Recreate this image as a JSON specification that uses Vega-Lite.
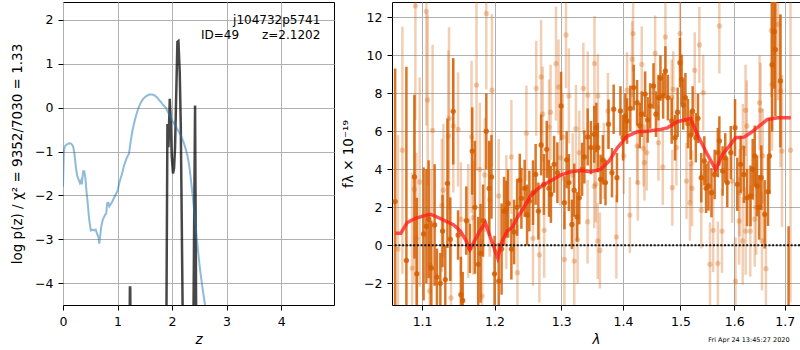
{
  "$schema": "https://vega.github.io/schema/vega-lite/v6.json",
  "padding": {"left": 10, "top": 1, "right": 0, "bottom": 0},
  "spacing": 58,
  "bounds": "flush",
  "config": {
    "font": "DejaVu Sans",
    "view": {"stroke": "black", "strokeWidth": 1},
    "axis": {"grid": true, "gridColor": "#b0b0b0", "gridWidth": 1, "gridOpacity": 1, "domain": false, "tickColor": "black", "tickSize": 5, "tickWidth": 1, "labelFontSize": 12.5, "labelColor": "black", "labelPadding": 5, "labelFlush": false, "labelOverlap": false, "titleFontSize": 13.5, "titleFontWeight": "normal", "titleColor": "black", "titlePadding": 5}
  },
  "datasets": {
    "pz": [
      {"z":0.0,"v":-1.8},{"z":0.015,"v":-1.0},{"z":0.035,"v":-0.88},{"z":0.07,"v":-0.84},{"z":0.11,"v":-0.81},{"z":0.15,"v":-0.82},{"z":0.185,"v":-0.88},{"z":0.21,"v":-1.05},{"z":0.235,"v":-1.35},{"z":0.26,"v":-1.55},{"z":0.29,"v":-1.65},{"z":0.31,"v":-1.72},{"z":0.335,"v":-1.65},{"z":0.345,"v":-1.75},{"z":0.37,"v":-1.45},{"z":0.39,"v":-1.45},{"z":0.41,"v":-1.6},{"z":0.43,"v":-1.9},{"z":0.455,"v":-2.2},{"z":0.48,"v":-2.55},{"z":0.51,"v":-2.8},{"z":0.54,"v":-2.78},{"z":0.57,"v":-2.8},{"z":0.6,"v":-2.78},{"z":0.625,"v":-2.88},{"z":0.65,"v":-2.95},{"z":0.665,"v":-3.1},{"z":0.685,"v":-2.9},{"z":0.7,"v":-2.72},{"z":0.73,"v":-2.55},{"z":0.77,"v":-2.45},{"z":0.795,"v":-2.4},{"z":0.81,"v":-2.18},{"z":0.83,"v":-2.17},{"z":0.85,"v":-2.25},{"z":0.875,"v":-2.2},{"z":0.9,"v":-2.15},{"z":0.95,"v":-2.02},{"z":1.0,"v":-1.9},{"z":1.04,"v":-1.68},{"z":1.08,"v":-1.52},{"z":1.12,"v":-1.32},{"z":1.17,"v":-1.14},{"z":1.21,"v":-1.05},{"z":1.24,"v":-0.78},{"z":1.27,"v":-0.55},{"z":1.3,"v":-0.37},{"z":1.34,"v":-0.18},{"z":1.38,"v":-0.02},{"z":1.42,"v":0.1},{"z":1.47,"v":0.2},{"z":1.52,"v":0.26},{"z":1.58,"v":0.3},{"z":1.64,"v":0.3},{"z":1.68,"v":0.28},{"z":1.72,"v":0.24},{"z":1.76,"v":0.18},{"z":1.8,"v":0.12},{"z":1.84,"v":0.06},{"z":1.884,"v":0.0},{"z":1.94,"v":-0.14},{"z":2.0,"v":-0.29},{"z":2.08,"v":-0.45},{"z":2.16,"v":-0.63},{"z":2.21,"v":-0.78},{"z":2.25,"v":-0.94},{"z":2.28,"v":-1.08},{"z":2.31,"v":-1.28},{"z":2.34,"v":-1.58},{"z":2.374,"v":-1.96},{"z":2.405,"v":-2.35},{"z":2.435,"v":-2.73},{"z":2.465,"v":-3.11},{"z":2.495,"v":-3.49},{"z":2.527,"v":-3.82},{"z":2.557,"v":-4.1},{"z":2.606,"v":-4.51},{"z":2.63,"v":-4.75}
    ],
    "chi": [
      {"z":1.2,"v":-9},{"z":1.227,"v":-4.1},{"z":1.233,"v":-4.1},{"z":1.26,"v":-9},{"z":1.87,"v":-9},{"z":1.875,"v":-10},{"z":1.915,"v":-0.37},{"z":1.934,"v":-0.9},{"z":1.958,"v":0.2},{"z":1.976,"v":-0.3},{"z":1.994,"v":-1.1},{"z":2.018,"v":-1.5},{"z":2.037,"v":-1.38},{"z":2.055,"v":-0.9},{"z":2.08,"v":0.5},{"z":2.098,"v":1.5},{"z":2.117,"v":1.52},{"z":2.141,"v":0.8},{"z":2.16,"v":-0.4},{"z":2.178,"v":-2.6},{"z":2.205,"v":-6},{"z":2.3,"v":-15},{"z":2.385,"v":-6},{"z":2.422,"v":0.05},{"z":2.447,"v":-6},{"z":2.6,"v":-15},{"z":4.9,"v":-15}
    ],
    "dk": [
      {"l":1.065,"f":2.3,"e":7.0},{"l":1.0795,"f":-0.8,"e":10.2},{"l":1.09,"f":3.6,"e":4.3},{"l":1.0931,"f":-1.5,"e":4.0},{"l":1.102,"f":0.6,"e":3.5},{"l":1.1057,"f":1.0,"e":3.0},{"l":1.1087,"f":1.37,"e":3.1},{"l":1.1123,"f":-1.2,"e":2.5},{"l":1.1167,"f":1.07,"e":3.2},{"l":1.1198,"f":-1.67,"e":1.5},{"l":1.1244,"f":-2.0,"e":1.6},{"l":1.1274,"f":0.75,"e":1.9},{"l":1.1311,"f":-1.8,"e":1.8},{"l":1.134,"f":3.26,"e":3.4},{"l":1.1379,"f":0.32,"e":2.2},{"l":1.1419,"f":7.05,"e":2.8},{"l":1.1486,"f":0.54,"e":1.3},{"l":1.1525,"f":-2.6,"e":2.0},{"l":1.155,"f":-2.9,"e":1.5},{"l":1.16,"f":1.3,"e":1.8},{"l":1.165,"f":-0.16,"e":1.3},{"l":1.1683,"f":4.96,"e":2.3},{"l":1.172,"f":2.0,"e":3.5},{"l":1.1767,"f":-1.0,"e":2.5},{"l":1.18,"f":-0.42,"e":2.6},{"l":1.1836,"f":1.3,"e":1.9},{"l":1.1882,"f":6.0,"e":2.0},{"l":1.1923,"f":3.0,"e":2.5},{"l":1.1956,"f":3.6,"e":2.2},{"l":1.2,"f":-1.5,"e":2.0},{"l":1.206,"f":-1.88,"e":2.0},{"l":1.2102,"f":-0.2,"e":2.4},{"l":1.2138,"f":1.8,"e":1.8},{"l":1.2171,"f":1.9,"e":1.5},{"l":1.2197,"f":2.2,"e":1.8},{"l":1.2245,"f":-0.2,"e":1.6},{"l":1.2285,"f":0.7,"e":1.7},{"l":1.233,"f":2.0,"e":1.5},{"l":1.2369,"f":3.42,"e":1.4},{"l":1.2393,"f":2.47,"e":1.6},{"l":1.2442,"f":3.0,"e":1.5},{"l":1.2478,"f":1.6,"e":1.6},
      {"l":1.2512,"f":2.33,"e":1.6},{"l":1.2567,"f":2.77,"e":1.7},{"l":1.2607,"f":3.73,"e":1.6},{"l":1.2648,"f":1.8,"e":1.5},{"l":1.269,"f":5.28,"e":1.6},{"l":1.2732,"f":3.2,"e":1.6},{"l":1.2776,"f":5.05,"e":1.5},{"l":1.281,"f":3.0,"e":1.5},{"l":1.284,"f":2.68,"e":1.5},{"l":1.289,"f":4.26,"e":1.5},{"l":1.294,"f":3.82,"e":1.6},{"l":1.2998,"f":7.33,"e":1.8},{"l":1.305,"f":2.24,"e":1.4},{"l":1.3085,"f":4.5,"e":1.5},{"l":1.312,"f":3.3,"e":1.5},{"l":1.3168,"f":1.1,"e":1.3},{"l":1.3205,"f":2.9,"e":1.4},{"l":1.325,"f":1.5,"e":1.3},{"l":1.3285,"f":2.5,"e":1.4},{"l":1.333,"f":4.0,"e":1.4},{"l":1.3366,"f":4.65,"e":1.4},{"l":1.342,"f":5.7,"e":1.5},{"l":1.3472,"f":5.14,"e":1.4},{"l":1.3526,"f":5.84,"e":1.5},
      {"l":1.356,"f":6.2,"e":1.3},{"l":1.3585,"f":5.14,"e":1.3},{"l":1.3629,"f":3.47,"e":1.3},{"l":1.3667,"f":4.5,"e":1.3},{"l":1.371,"f":3.3,"e":1.2},{"l":1.376,"f":6.37,"e":1.3},{"l":1.3817,"f":3.82,"e":1.3},{"l":1.3845,"f":7.16,"e":1.3},{"l":1.39,"f":3.56,"e":1.3},{"l":1.3958,"f":7.07,"e":1.3},{"l":1.4003,"f":5.66,"e":1.2},{"l":1.404,"f":6.8,"e":1.2},{"l":1.4069,"f":6.54,"e":1.2},{"l":1.4124,"f":7.2,"e":1.2},{"l":1.4182,"f":8.3,"e":1.2},{"l":1.424,"f":7.5,"e":1.2},{"l":1.4286,"f":6.3,"e":1.2},{"l":1.432,"f":6.9,"e":1.2},{"l":1.4378,"f":7.95,"e":1.2},{"l":1.4422,"f":6.6,"e":1.2},{"l":1.4466,"f":7.33,"e":1.2},{"l":1.4523,"f":8.38,"e":1.2},{"l":1.4566,"f":6.9,"e":1.2},{"l":1.461,"f":7.77,"e":1.2},{"l":1.4645,"f":8.8,"e":1.2},
      {"l":1.4692,"f":7.86,"e":1.2},{"l":1.4732,"f":9.17,"e":1.3},{"l":1.4776,"f":7.77,"e":1.2},{"l":1.4844,"f":6.54,"e":1.2},{"l":1.4904,"f":5.66,"e":1.2},{"l":1.495,"f":7.0,"e":1.3},{"l":1.4993,"f":9.61,"e":1.3},{"l":1.5022,"f":8.73,"e":1.3},{"l":1.505,"f":7.38,"e":1.3},{"l":1.509,"f":7.77,"e":1.3},{"l":1.5136,"f":6.4,"e":1.3},{"l":1.5186,"f":5.8,"e":1.3},{"l":1.5222,"f":7.07,"e":1.3},{"l":1.528,"f":5.66,"e":1.3},{"l":1.532,"f":6.68,"e":1.3},{"l":1.538,"f":3.56,"e":1.3},{"l":1.5437,"f":4.44,"e":1.3},{"l":1.547,"f":3.0,"e":1.3},{"l":1.5514,"f":3.12,"e":1.3},{"l":1.557,"f":2.77,"e":1.3},{"l":1.563,"f":3.73,"e":1.3},{"l":1.569,"f":4.88,"e":1.3},{"l":1.5718,"f":5.49,"e":1.3},{"l":1.578,"f":3.91,"e":1.3},{"l":1.583,"f":4.6,"e":1.3},{"l":1.5868,"f":3.3,"e":1.3},
      {"l":1.5935,"f":4.88,"e":1.4},{"l":1.6017,"f":6.19,"e":1.5},{"l":1.606,"f":3.21,"e":1.4},{"l":1.6125,"f":4.26,"e":1.5},{"l":1.6188,"f":3.73,"e":1.5},{"l":1.6251,"f":2.5,"e":1.5},{"l":1.6317,"f":2.6,"e":1.6},{"l":1.636,"f":4.0,"e":1.6},{"l":1.64,"f":4.7,"e":1.6},{"l":1.6446,"f":3.12,"e":1.6},{"l":1.649,"f":2.0,"e":1.7},{"l":1.653,"f":3.56,"e":1.7},{"l":1.6597,"f":1.63,"e":1.8},{"l":1.6663,"f":2.82,"e":1.8},{"l":1.6692,"f":4.7,"e":2.0},{"l":1.6745,"f":9.5,"e":3.5},{"l":1.679,"f":11.24,"e":3.0},{"l":1.6812,"f":10.3,"e":3.5},{"l":1.6913,"f":8.65,"e":3.5},{"l":1.708,"f":-3.5,"e":4.5}
    ],
    "lt": [
      {"l":1.0686,"f":-0.2,"e":6.0},{"l":1.0743,"f":5.0,"e":6.5},{"l":1.0869,"f":-1.2,"e":5.0},{"l":1.0899,"f":2.95,"e":5.0},{"l":1.0912,"f":12.6,"e":6.0},{"l":1.0925,"f":0.37,"e":4.5},{"l":1.0968,"f":3.33,"e":5.5},{"l":1.1057,"f":12.3,"e":6.0},{"l":1.1074,"f":7.65,"e":4.5},{"l":1.11,"f":-2.4,"e":4.0},{"l":1.111,"f":-1.05,"e":5.0},{"l":1.114,"f":6.05,"e":4.5},{"l":1.1264,"f":2.1,"e":3.5},{"l":1.1286,"f":2.9,"e":3.5},{"l":1.1353,"f":5.75,"e":4.5},{"l":1.1362,"f":6.68,"e":4.8},{"l":1.1389,"f":-2.76,"e":3.0},{"l":1.142,"f":6.28,"e":3.5},{"l":1.1486,"f":6.1,"e":3.0},
      {"l":1.1525,"f":1.37,"e":3.0},{"l":1.1627,"f":1.28,"e":3.0},{"l":1.1673,"f":5.7,"e":4.0},{"l":1.1697,"f":1.45,"e":3.0},{"l":1.1743,"f":8.43,"e":4.5},{"l":1.179,"f":4.0,"e":3.5},{"l":1.1822,"f":-2.67,"e":3.0},{"l":1.186,"f":3.7,"e":3.0},{"l":1.1882,"f":12.2,"e":4.0},{"l":1.193,"f":2.4,"e":3.0},{"l":1.1963,"f":8.16,"e":4.0},{"l":1.206,"f":2.6,"e":3.0},{"l":1.2171,"f":1.75,"e":3.0},{"l":1.2245,"f":4.65,"e":3.0},{"l":1.2335,"f":-1.44,"e":2.5},{"l":1.2468,"f":5.9,"e":2.5},
      {"l":1.2567,"f":0.37,"e":2.5},{"l":1.2616,"f":8.26,"e":2.5},{"l":1.2664,"f":-0.51,"e":2.5},{"l":1.269,"f":8.86,"e":3.0},{"l":1.2714,"f":6.9,"e":2.5},{"l":1.2737,"f":0.79,"e":2.5},{"l":1.281,"f":6.22,"e":2.5},{"l":1.2835,"f":7.0,"e":2.5},{"l":1.2919,"f":9.56,"e":3.0},{"l":1.2958,"f":8.33,"e":2.5},{"l":1.2985,"f":4.6,"e":2.5},{"l":1.3024,"f":5.7,"e":2.3},{"l":1.305,"f":-0.74,"e":2.5},{"l":1.3075,"f":11.07,"e":2.8},{"l":1.312,"f":7.86,"e":2.5},{"l":1.318,"f":3.7,"e":2.2},{"l":1.3205,"f":-0.83,"e":2.3},{"l":1.3232,"f":6.14,"e":2.3},{"l":1.3258,"f":0.3,"e":2.3},{"l":1.3285,"f":4.88,"e":2.2},{"l":1.335,"f":8.26,"e":2.4},{"l":1.342,"f":7.9,"e":2.3},{"l":1.3418,"f":1.24,"e":2.2},{"l":1.3526,"f":3.1,"e":2.2},{"l":1.353,"f":9.56,"e":2.5},
      {"l":1.355,"f":3.21,"e":2.0},{"l":1.3585,"f":7.86,"e":2.2},{"l":1.3583,"f":0.23,"e":2.0},{"l":1.3618,"f":-0.27,"e":2.0},{"l":1.3683,"f":4.44,"e":2.0},{"l":1.3749,"f":7.07,"e":2.0},{"l":1.389,"f":0.44,"e":2.2},{"l":1.4014,"f":4.7,"e":2.0},{"l":1.4069,"f":8.16,"e":2.0},{"l":1.4116,"f":1.59,"e":2.0},{"l":1.4155,"f":9.79,"e":2.0},{"l":1.4172,"f":11.14,"e":2.0},{"l":1.424,"f":5.23,"e":2.0},{"l":1.4252,"f":3.3,"e":2.0},{"l":1.432,"f":9.52,"e":2.0},{"l":1.435,"f":5.1,"e":2.0},{"l":1.4366,"f":4.35,"e":2.0},{"l":1.4406,"f":4.88,"e":2.0},{"l":1.4552,"f":10.09,"e":2.0},{"l":1.461,"f":5.4,"e":2.0},
      {"l":1.4686,"f":4.12,"e":2.0},{"l":1.4732,"f":10.96,"e":2.0},{"l":1.4844,"f":7.77,"e":2.0},{"l":1.4855,"f":3.03,"e":2.0},{"l":1.4872,"f":8.2,"e":2.0},{"l":1.4928,"f":5.14,"e":2.0},{"l":1.4993,"f":11.14,"e":2.0},{"l":1.511,"f":3.38,"e":2.0},{"l":1.5172,"f":2.24,"e":2.0},{"l":1.519,"f":4.3,"e":2.0},{"l":1.5212,"f":3.0,"e":2.0},{"l":1.526,"f":9.21,"e":2.0},{"l":1.5345,"f":10.54,"e":2.0},{"l":1.538,"f":1.84,"e":2.0},{"l":1.5416,"f":8.03,"e":2.0},{"l":1.5542,"f":-1.0,"e":2.2},{"l":1.5602,"f":0.79,"e":2.2},{"l":1.569,"f":-0.95,"e":2.2},{"l":1.5718,"f":11.54,"e":2.5},{"l":1.5768,"f":0.75,"e":2.2},
      {"l":1.5962,"f":3.38,"e":2.2},{"l":1.6026,"f":-1.88,"e":2.3},{"l":1.6103,"f":2.77,"e":2.3},{"l":1.6095,"f":1.28,"e":2.3},{"l":1.6168,"f":5.14,"e":2.3},{"l":1.6165,"f":0.23,"e":2.3},{"l":1.622,"f":7.1,"e":2.4},{"l":1.6222,"f":0.75,"e":2.3},{"l":1.6245,"f":6.28,"e":2.4},{"l":1.6313,"f":0.75,"e":2.4},{"l":1.64,"f":1.37,"e":2.5},{"l":1.643,"f":2.0,"e":2.5},{"l":1.6495,"f":7.5,"e":2.5},{"l":1.6515,"f":7.1,"e":2.5},{"l":1.6543,"f":0.23,"e":2.6},{"l":1.6558,"f":4.7,"e":2.5},{"l":1.6622,"f":-1.23,"e":2.8},{"l":1.673,"f":11.3,"e":3.5},{"l":1.6745,"f":8.47,"e":3.5},{"l":1.6866,"f":11.63,"e":4.0},{"l":1.6916,"f":8.12,"e":4.0},{"l":1.6946,"f":4.96,"e":4.0},{"l":1.712,"f":5.0,"e":8.0}
    ],
    "model": [
      {"l":1.0653,"f":0.63},{"l":1.0723,"f":0.63},{"l":1.0803,"f":1.19},{"l":1.0912,"f":1.42},{"l":1.1021,"f":1.55},{"l":1.111,"f":1.63},{"l":1.12,"f":1.49},{"l":1.1312,"f":1.28},{"l":1.1426,"f":1.07},{"l":1.1518,"f":0.75},{"l":1.1587,"f":0.31},{"l":1.1648,"f":-0.22},{"l":1.1703,"f":0.14},{"l":1.1788,"f":0.75},{"l":1.1869,"f":1.19},{"l":1.1941,"f":0.4},{"l":1.2046,"f":-0.66},{"l":1.211,"f":0.22},{"l":1.2183,"f":0.75},{"l":1.2257,"f":0.93},{"l":1.2331,"f":1.45},{"l":1.2429,"f":1.98},{"l":1.2529,"f":2.59},{"l":1.263,"f":2.94},{"l":1.2731,"f":3.2},{"l":1.2834,"f":3.38},{"l":1.2989,"f":3.69},{"l":1.3146,"f":3.87},{"l":1.3305,"f":3.94},{"l":1.3466,"f":3.87},{"l":1.3629,"f":3.99},{"l":1.3767,"f":4.43},{"l":1.3906,"f":5.13},{"l":1.4073,"f":5.74},{"l":1.4243,"f":5.97},{"l":1.4415,"f":6.0},{"l":1.4648,"f":6.1},{"l":1.4767,"f":6.18},{"l":1.4946,"f":6.5},{"l":1.5186,"f":6.67},{"l":1.5308,"f":5.83},{"l":1.5493,"f":4.78},{"l":1.5649,"f":3.99},{"l":1.5775,"f":4.78},{"l":1.5933,"f":5.31},{"l":1.6029,"f":5.66},{"l":1.619,"f":5.69},{"l":1.6321,"f":5.92},{"l":1.6487,"f":6.27},{"l":1.6652,"f":6.62},{"l":1.6855,"f":6.71},{"l":1.7126,"f":6.71}
    ]
  },
  "hconcat": [
    {
      "width": 271,
      "height": 303,
      "layer": [
        {
          "data": {"name": "chi"},
          "mark": {"type": "line", "color": "#000000", "opacity": 0.72, "strokeWidth": 2.5, "clip": true},
          "encoding": {
            "x": {"field": "z", "type": "quantitative", "title": "z", "scale": {"domain": [0, 4.97], "nice": false, "zero": false}, "axis": {"title": "z", "titleFontStyle": "italic", "values": [0, 1, 2, 3, 4]}},
            "y": {"field": "v", "type": "quantitative", "title": "log p(z) / χ² = 9352/7030 = 1.33", "scale": {"domain": [-4.5, 2.41], "nice": false, "zero": false}, "axis": {"title": "log p(z) / χ² = 9352/7030 = 1.33", "values": [-4, -3, -2, -1, 0, 1, 2], "titlePadding": 10}}
          }
        },
        {
          "data": {"name": "pz"},
          "mark": {"type": "line", "color": "#1f77b4", "opacity": 0.5, "strokeWidth": 2, "clip": true},
          "encoding": {
            "x": {"field": "z", "type": "quantitative", "title": "z"},
            "y": {"field": "v", "type": "quantitative", "title": "log p(z) / χ² = 9352/7030 = 1.33"}
          }
        },
        {
          "data": {"values": [{}]},
          "mark": {"type": "text", "align": "right", "baseline": "middle", "fontSize": 12, "color": "black"},
          "encoding": {"x": {"datum": 4.72}, "y": {"datum": 1.99}, "text": {"value": "j104732p5741"}}
        },
        {
          "data": {"values": [{}]},
          "mark": {"type": "text", "align": "right", "baseline": "middle", "fontSize": 12, "color": "black"},
          "encoding": {"x": {"datum": 4.72}, "y": {"datum": 1.66}, "text": {"value": "ID=49\u00a0\u00a0\u00a0\u00a0\u00a0\u00a0z=2.1202"}}
        }
      ]
    },
    {
      "width": 408,
      "height": 303,
      "layer": [
        {
          "data": {"name": "lt"},
          "mark": {"type": "errorbar", "ticks": false, "color": "#d55e00", "opacity": 0.3, "thickness": 2.5, "clip": true},
          "encoding": {
            "x": {"field": "l", "type": "quantitative", "title": "λ", "scale": {"type": "log", "domain": [1.061, 1.7316], "nice": false, "zero": false}, "axis": {"title": "λ", "titleFontStyle": "italic", "values": [1.1, 1.2, 1.3, 1.4, 1.5, 1.6, 1.7], "format": ".1f"}},
            "y": {"field": "f", "type": "quantitative", "title": "fλ × 10⁻¹⁹", "scale": {"domain": [-3.14, 12.8], "nice": false, "zero": false}, "axis": {"title": "fλ × 10⁻¹⁹", "values": [-2, 0, 2, 4, 6, 8, 10, 12], "titlePadding": 8}},
            "yError": {"field": "e"}
          }
        },
        {
          "data": {"name": "lt"},
          "mark": {"type": "circle", "color": "#d55e00", "opacity": 0.3, "size": 28, "clip": true},
          "encoding": {
            "x": {"field": "l", "type": "quantitative", "title": "λ"},
            "y": {"field": "f", "type": "quantitative", "title": "fλ × 10⁻¹⁹"}
          }
        },
        {
          "data": {"name": "dk"},
          "mark": {"type": "errorbar", "ticks": false, "color": "#d55e00", "opacity": 0.85, "thickness": 2.5, "clip": true},
          "encoding": {
            "x": {"field": "l", "type": "quantitative", "title": "λ"},
            "y": {"field": "f", "type": "quantitative", "title": "fλ × 10⁻¹⁹"},
            "yError": {"field": "e"}
          }
        },
        {
          "data": {"name": "dk"},
          "mark": {"type": "circle", "color": "#d55e00", "opacity": 0.85, "size": 28, "clip": true},
          "encoding": {
            "x": {"field": "l", "type": "quantitative", "title": "λ"},
            "y": {"field": "f", "type": "quantitative", "title": "fλ × 10⁻¹⁹"}
          }
        },
        {
          "data": {"name": "model"},
          "mark": {"type": "line", "color": "#ff1a1a", "opacity": 0.75, "strokeWidth": 3.5, "clip": true},
          "encoding": {
            "x": {"field": "l", "type": "quantitative", "title": "λ"},
            "y": {"field": "f", "type": "quantitative", "title": "fλ × 10⁻¹⁹"}
          }
        },
        {
          "data": {"values": [{}]},
          "mark": {"type": "rule", "color": "#111111", "strokeDash": [2, 1.7], "strokeWidth": 2},
          "encoding": {"y": {"datum": 0}}
        },
        {
          "data": {"values": [{}]},
          "mark": {"type": "text", "align": "right", "baseline": "middle", "fontSize": 6.5, "color": "black"},
          "encoding": {"x": {"datum": 1.71}, "y": {"datum": -4.98}, "text": {"value": "Fri Apr 24 13:45:27 2020"}}
        }
      ]
    }
  ]
}
